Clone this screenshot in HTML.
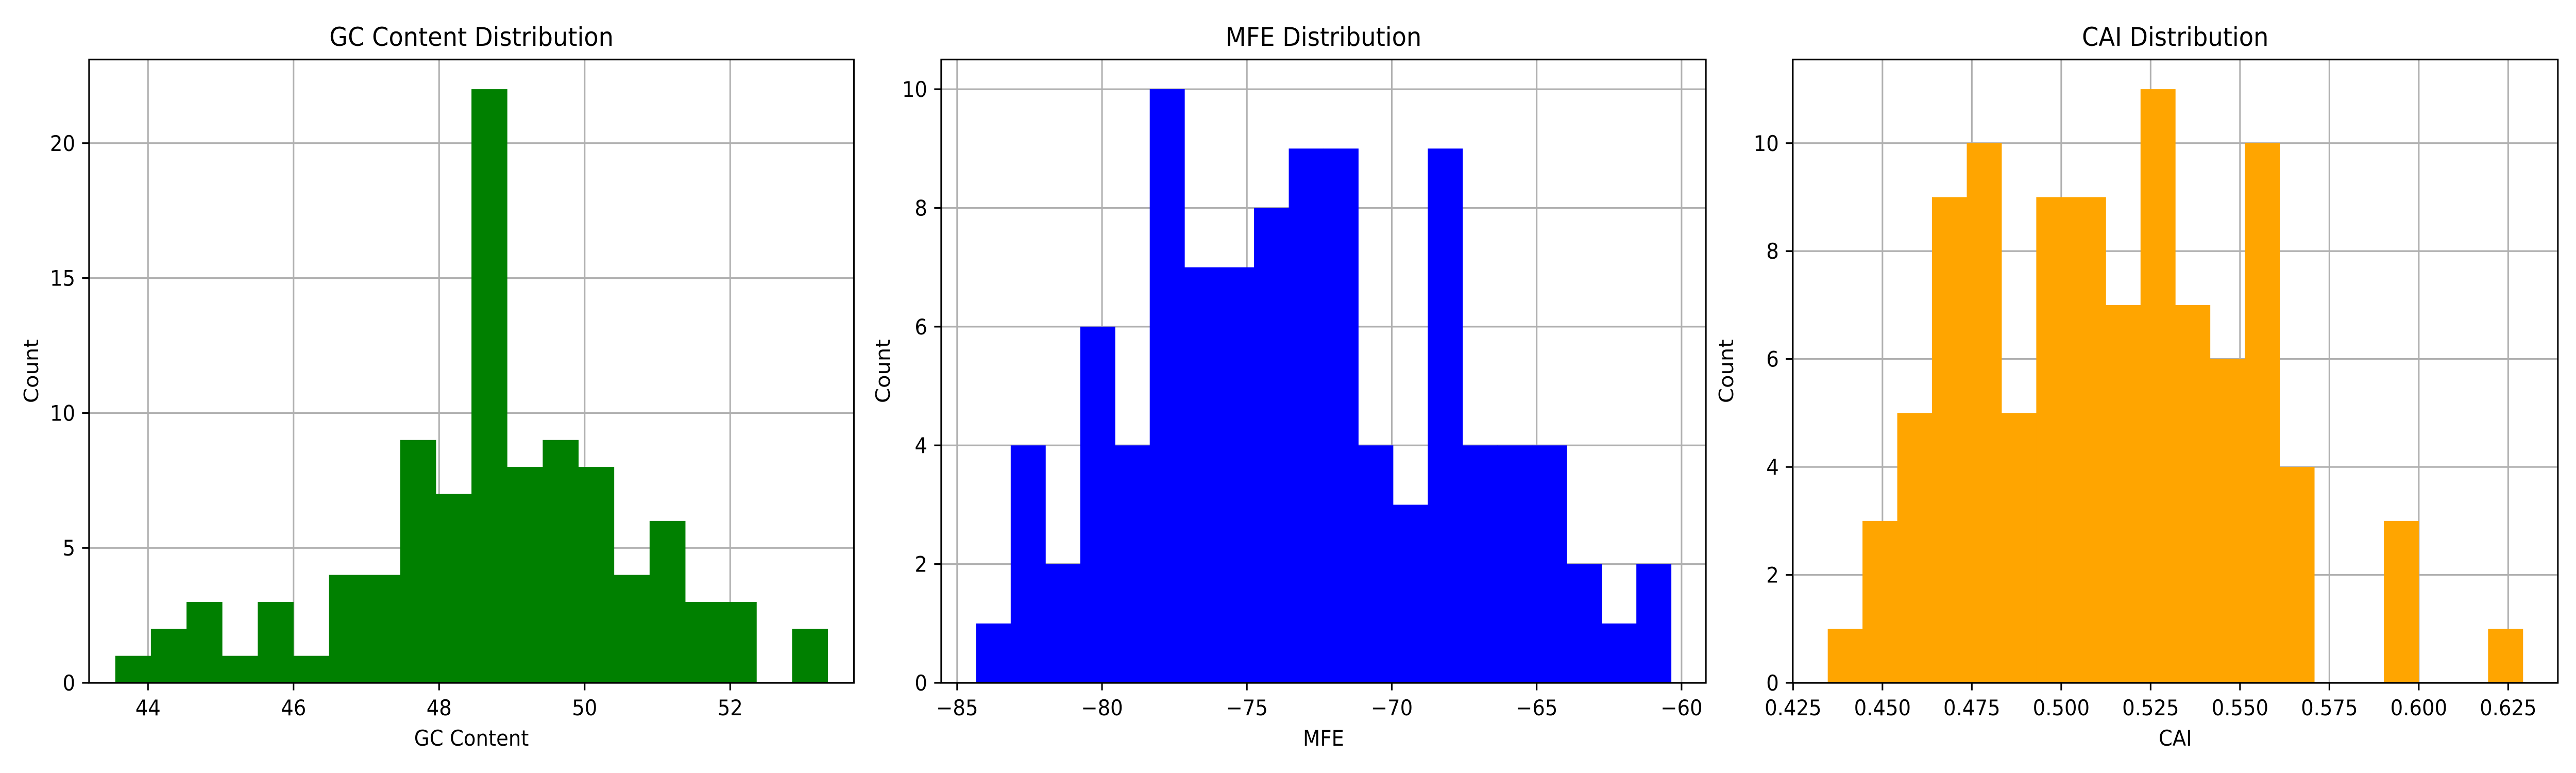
<!DOCTYPE html>
<html><head><meta charset="utf-8"><style>
html,body{margin:0;padding:0;background:#fff;overflow:hidden;width:100%;height:100%;}
svg{display:block;width:100vw;height:100vh;font-family:"DejaVu Sans","Liberation Sans",sans-serif;}
</style></head><body>
<svg id="fig" viewBox="0 0 5400 1500" preserveAspectRatio="none" xmlns="http://www.w3.org/2000/svg"></svg>
<script>
const gcCounts = [1,2,3,1,3,1,4,4,9,7,22,8,9,8,4,6,3,3,0,2];
const gcRange = [43.55, 53.34];
const gcXTicks = [44,46,48,50,52];
const gcYTicks = [0,5,10,15,20];

const mfeCounts = [1,4,2,6,4,10,7,7,8,9,9,4,3,9,4,4,4,2,1,2];
const mfeRange = [-84.35, -60.36];
const mfeXTicks = [-85,-80,-75,-70,-65,-60];
const mfeYTicks = [0,2,4,6,8,10];

const caiCounts = [1,3,5,9,10,5,9,9,7,11,7,6,10,4,0,0,3,0,0,1];
const caiRange = [0.4347, 0.6291];
const caiXTicks = [0.425,0.450,0.475,0.500,0.525,0.550,0.575,0.600,0.625];
const caiYTicks = [0,2,4,6,8,10];

const NS='http://www.w3.org/2000/svg';
const svg=document.getElementById('fig');
function mk(tag,attrs,parent){const e=document.createElementNS(NS,tag);for(const k in attrs)e.setAttribute(k,attrs[k]);(parent||svg).appendChild(e);return e;}

function panel(cfg){
  const g=mk('g',{});
  
  
  const L=cfg.left,R=cfg.right,T=115.5,B=1325;
  const xs=v=>L+(v-cfg.xmin)/(cfg.xmax-cfg.xmin)*(R-L);
  const ys=v=>B-v/cfg.ymax*(B-T);
  cfg.xticks.forEach(t=>{const l=mk('line',{x1:xs(t),x2:xs(t),y1:T,y2:B,stroke:'#b0b0b0','stroke-width':3.3},g);
    
    });
  cfg.yticks.forEach(t=>{const l=mk('line',{x1:L,x2:R,y1:ys(t),y2:ys(t),stroke:'#b0b0b0','stroke-width':3.3},g);
    
    });
  const n=cfg.counts.length,w=(cfg.range[1]-cfg.range[0])/n;
  cfg.counts.forEach((c,i)=>{if(c<=0)return;
    const x0=xs(cfg.range[0]+i*w),x1=xs(cfg.range[0]+(i+1)*w);
    const r=mk('rect',{x:x0,y:ys(c),width:x1-x0+0.5,height:B-ys(c),fill:cfg.color},g);
    
    });
  const sp=mk('rect',{x:L,y:T,width:R-L,height:B-T,fill:'none',stroke:'#000','stroke-width':3.3},g);
  
  
  cfg.xticks.forEach(t=>{mk('line',{x1:xs(t),x2:xs(t),y1:B,y2:B+14.6,stroke:'#000','stroke-width':3.3},g);
    const tx=mk('text',{x:xs(t),y:1388,'font-size':41.7,'text-anchor':'middle'},g);
    
    
    tx.textContent=cfg.fmt(t);});
  cfg.yticks.forEach(t=>{mk('line',{x1:L-14.6,x2:L,y1:ys(t),y2:ys(t),stroke:'#000','stroke-width':3.3},g);
    const tx=mk('text',{x:L-29,y:ys(t)+15,'font-size':41.7,'text-anchor':'end'},g);
    
    
    tx.textContent=String(t);});
  const ti=mk('text',{x:(L+R)/2,y:89,'font-size':50,'text-anchor':'middle'},g);
  
  
  ti.textContent=cfg.title;
  const xl=mk('text',{x:(L+R)/2,y:1447,'font-size':41.7,'text-anchor':'middle'},g);
  
  
  xl.textContent=cfg.xlabel;
  const yx=cfg.ylabelX,yy=(T+B)/2;
  const yl=mk('text',{x:yx,y:yy,'font-size':41.7,'text-anchor':'middle',transform:`rotate(-90 ${yx} ${yy})`},g);
  
  
  yl.textContent='Count';
}
const minus=s=>s.replace('-','\u2212');
panel({name:'gc',left:186.7,right:1790,xmin:43.19,xmax:53.7,ymax:23.1,counts:gcCounts,range:gcRange,xticks:gcXTicks,yticks:gcYTicks,color:'#008000',title:'GC Content Distribution',xlabel:'GC Content',ylabelX:80,fmt:t=>String(t)});
panel({name:'mfe',left:1973,right:3576,xmin:-85.55,xmax:-59.16,ymax:10.5,counts:mfeCounts,range:mfeRange,xticks:mfeXTicks,yticks:mfeYTicks,color:'#0000ff',title:'MFE Distribution',xlabel:'MFE',ylabelX:1865,fmt:t=>minus(String(t))});
panel({name:'cai',left:3758,right:5362,xmin:0.4249,xmax:0.6389,ymax:11.55,counts:caiCounts,range:caiRange,xticks:caiXTicks,yticks:caiYTicks,color:'#ffa500',title:'CAI Distribution',xlabel:'CAI',ylabelX:3633,fmt:t=>t.toFixed(3)});
</script>
</body></html>
